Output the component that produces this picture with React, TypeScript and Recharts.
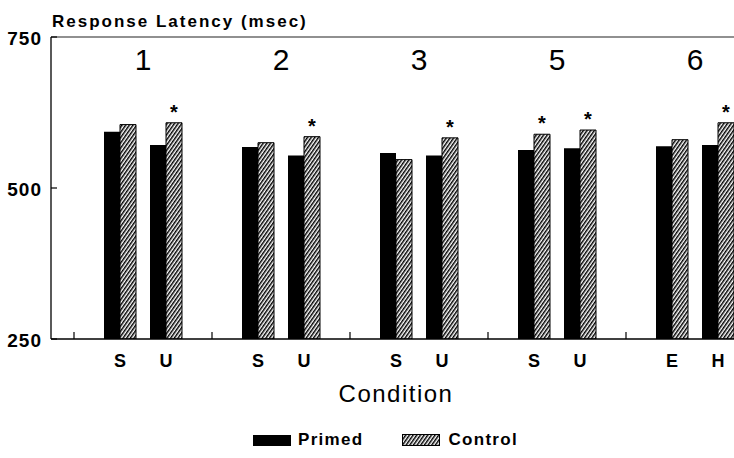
import { BarChart, Bar, XAxis, YAxis, Legend, LabelList, Label } from 'recharts'

const FONT = '"Liberation Sans", Arial, Helvetica, sans-serif'

// blank entries are the spacer slots between experiment groups
const conditions = ['', 'S', 'U', '', 'S', 'U', '', 'S', 'U', '', 'S', 'U', '', 'E', 'H']
const groups = ['', '1', '', '', '2', '', '', '3', '', '', '5', '', '', '6', '']
const primed = [null, 593, 571, null, 568, 554, null, 558, 554, null, 563, 566, null, 569, 571]
const control = [null, 605, 608, null, 575, 585, null, 547, 583, null, 589, 596, null, 580, 608]
const significant = [false, false, true, false, false, true, false, false, true, false, true, true, false, false, true]
const yTicks = [250, 500, 750]

const data = conditions.map((c, i) => ({
  cond: c,
  group: groups[i],
  primed: primed[i],
  control: control[i],
  star: significant[i] ? '*' : '',
}))

function ConditionTick({ x, y, payload }: any) {
  if (!payload.value) {
    return <line x1={x} y1={y} x2={x} y2={y - 7} stroke="#000" strokeWidth={1.2} />
  }
  return (
    <text
      x={x}
      y={y + 28}
      textAnchor="middle"
      fill="#000"
      style={{ fontSize: 18, fontWeight: 700, fontFamily: FONT }}
    >
      {payload.value}
    </text>
  )
}

function GroupTick({ x, y, payload }: any) {
  if (!payload.value) return <g />
  const off = payload.offset ?? 23
  return (
    <text x={x + off} y={y + 33} textAnchor="middle" fill="#000" style={{ fontSize: 30, fontFamily: FONT }}>
      {payload.value}
    </text>
  )
}

function ValueTick({ x, y, payload }: any) {
  return (
    <g>
      <text x={x} y={y + 8} textAnchor="end" fill="#000" style={{ fontSize: 19, fontWeight: 700, fontFamily: FONT, letterSpacing: 1 }}>
        {payload.value}
      </text>
      <line x1={x + 9} y1={y} x2={x + 15} y2={y} stroke="#000" strokeWidth={1.2} />
    </g>
  )
}

function TitleLabel({ viewBox }: any) {
  return (
    <text x={viewBox.x + viewBox.width + 1} y={viewBox.y - 10} fill="#000" style={{ fontSize: 17, fontWeight: 700, fontFamily: FONT, letterSpacing: 2 }}>
      Response Latency (msec)
    </text>
  )
}

function ConditionLabel({ viewBox }: any) {
  return (
    <text x={viewBox.x + viewBox.width / 2} y={viewBox.y + 63} textAnchor="middle" fill="#000" style={{ fontSize: 24, fontFamily: FONT, letterSpacing: 1.5 }}>
      Condition
    </text>
  )
}

function Star(props: any) {
  const { x, y, width, value } = props
  if (!value) return null
  return (
    <text x={x + width / 2} y={y - 4} textAnchor="middle" fill="#000" style={{ fontSize: 20, fontWeight: 700, fontFamily: FONT }}>
      {value}
    </text>
  )
}

function HatchPattern({ id }: { id: string }) {
  return (
    <pattern id={id} width="3" height="3" patternUnits="userSpaceOnUse" patternTransform="rotate(35)">
      <rect width="3" height="3" fill="#fff" />
      <line x1="0.75" y1="0" x2="0.75" y2="3" stroke="#000" strokeWidth="1.5" />
    </pattern>
  )
}

function LegendContent() {
  return (
    <div style={{ display: 'flex', alignItems: 'center', height: 20, marginLeft: 253, fontFamily: FONT, fontWeight: 'bold', fontSize: 17, letterSpacing: 1.3, color: '#000' }}>
      <span style={{ display: 'inline-block', width: 38, height: 11, background: '#000' }} />
      <span style={{ marginLeft: 7 }}>Primed</span>
      <svg width={38} height={12} style={{ marginLeft: 39 }}>
        <defs>
          <HatchPattern id="hatchLegend" />
        </defs>
        <rect x={0.5} y={0.5} width={37} height={11} fill="url(#hatchLegend)" stroke="#000" />
      </svg>
      <span style={{ marginLeft: 8 }}>Control</span>
    </div>
  )
}

export default function App() {
  return (
    <div style={{ position: 'fixed', left: 0, top: 0, width: 734, height: 458, overflow: 'hidden', background: '#fff' }}>
      <BarChart
        width={760}
        height={458}
        data={data}
        margin={{ top: 7, right: 19, bottom: 8, left: 0 }}
        barCategoryGap={7}
        barGap={0}
      >
        <defs>
          <HatchPattern id="hatch" />
        </defs>
        <XAxis
          xAxisId="top"
          orientation="top"
          dataKey="group"
          height={30}
          interval={0}
          tickSize={0}
          tickMargin={0}
          tickLine={false}
          axisLine={{ stroke: '#222', strokeWidth: 1.2 }}
          tick={<GroupTick />}
        />
        <XAxis
          dataKey="cond"
          height={91}
          interval={0}
          tickSize={0}
          tickMargin={0}
          tickLine={false}
          axisLine={{ stroke: '#000', strokeWidth: 1.3 }}
          tick={<ConditionTick />}
        >
          <Label content={ConditionLabel} />
        </XAxis>
        <YAxis
          domain={[250, 750]}
          ticks={yTicks}
          width={51}
          interval={0}
          tickSize={0}
          tickMargin={9}
          tickLine={false}
          allowDataOverflow
          axisLine={{ stroke: '#000', strokeWidth: 1.3 }}
          tick={<ValueTick />}
        >
          <Label content={TitleLabel} />
        </YAxis>
        <Legend verticalAlign="bottom" content={<LegendContent />} wrapperStyle={{ left: 0, width: 760 }} />
        <Bar dataKey="primed" name="Primed" fill="#000" isAnimationActive={false} />
        <Bar dataKey="control" name="Control" fill="url(#hatch)" stroke="#000" strokeWidth={1} isAnimationActive={false}>
          <LabelList dataKey="star" content={<Star />} />
        </Bar>
      </BarChart>
    </div>
  )
}
